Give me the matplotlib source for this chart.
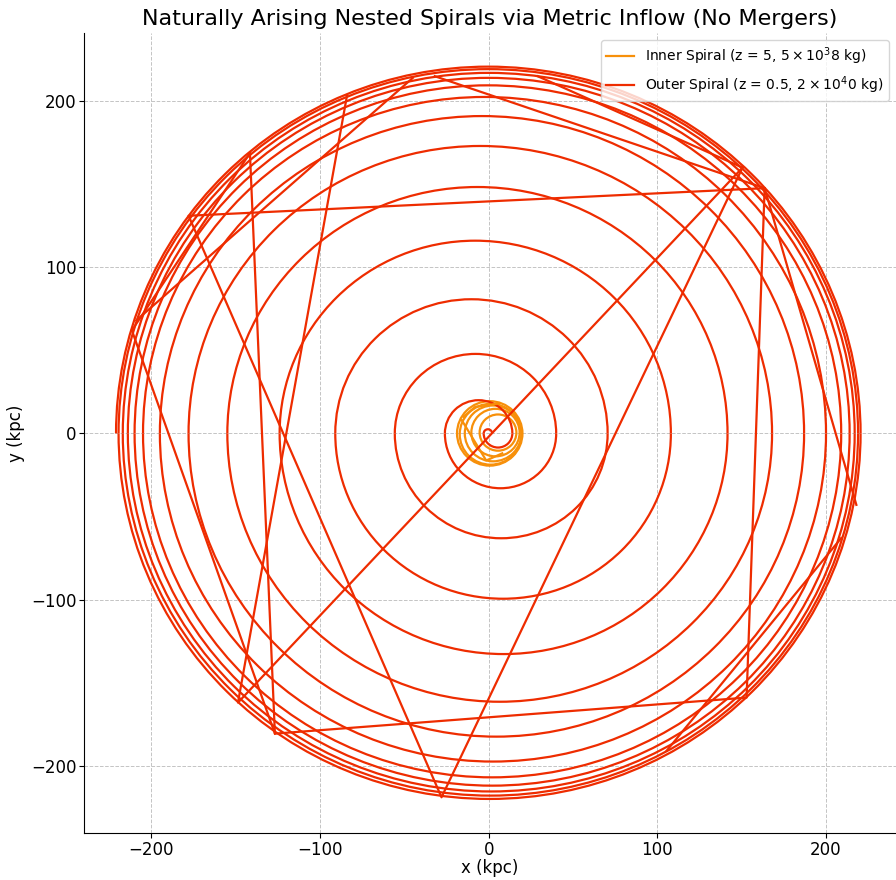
import numpy as np
import matplotlib.pyplot as plt
from matplotlib.patches import Arc, Circle

# x-axis crossings of the outer spiral (kpc), one per half turn
red_right = [2, 14, 40, 70.5, 108, 141.6, 168, 187, 200, 209, 214, 217, 219, 220.5]
red_left = [3, 26, 55.7, 91, 124, 155, 178, 195, 205, 210, 214, 217, 219.5, 221]

# straight chords of the outer spiral (coarse sampling at large radius)
red_chords = [
    [(163.6, 147.6), (-178, 131), (-28, -219), (150.5, 160)],
    [(-84, 203.6), (-148.7, -162), (150.5, 160)],
    [(-141.6, 168.7), (-126.8, -180.7), (152.9, -159), (163.6, 147.6), (218, -43)],
    [(209, -63), (105.5, -191)],
    [(-211.6, 62), (-126.8, -180.7)],
    [(-211.6, 62), (-141.6, 168.7)],
    [(-209, 68), (-45, 214)],
    [(-32, 215), (163.6, 147.6)],
    [(29, 215), (150.5, 160)],
]

# inner spiral loops: centre x, centre y, radius (kpc)
orange_cx = [0.6, 1.1, 2.6, 4.0, 5.5]
orange_cy = [0.0, -0.5, 0.0, 0.5, 0.5]
orange_r = [19.4, 18.3, 16.8, 14.3, 10.9]
orange_chords = [
    [(-16, 8), (-1.5, -16.3), (8, -12)],
    [(-15, 10), (-8, 16), (6, 18)],
]

red = '#EE2C00'
orange = '#F7900A'
lw = 1.6

fig = plt.figure(figsize=(8.96, 8.8), dpi=100)
ax = fig.add_axes([84 / 896, 47 / 880, 1 - 84 / 896, 800 / 880])

# inner spiral
for cx, cy, r in zip(orange_cx, orange_cy, orange_r):
    ax.add_patch(Circle((cx, cy), r, fill=False, color=orange, lw=lw))
for i, ch in enumerate(orange_chords):
    xs, ys = zip(*ch)
    ax.plot(xs, ys, color=orange, lw=lw,
            label=r'Inner Spiral (z = 5, $5 \times 10^38$ kg)' if i == 0 else None)

# outer spiral: alternating half turns above / below the x axis
for i in range(len(red_right)):
    r_in, l_in = red_right[i], red_left[i]
    ax.add_patch(Arc(((r_in - l_in) / 2, 0), r_in + l_in, r_in + l_in,
                     theta1=0, theta2=180, color=red, lw=lw))
    if i + 1 < len(red_right):
        r_next = red_right[i + 1]
        ax.add_patch(Arc(((r_next - l_in) / 2, 0), r_next + l_in, r_next + l_in,
                         theta1=180, theta2=360, color=red, lw=lw))
for i, ch in enumerate(red_chords):
    xs, ys = zip(*ch)
    ax.plot(xs, ys, color=red, lw=lw,
            label=r'Outer Spiral (z = 0.5, $2 \times 10^40$ kg)' if i == 0 else None)

ax.set_xlim(-240, 241.5)
ax.set_ylim(-240.5, 241)
ax.set_xticks([-200, -100, 0, 100, 200])
ax.set_yticks([-200, -100, 0, 100, 200])
ax.tick_params(labelsize=12, pad=2)
ax.grid(True, linestyle='--', color='#c4c4c4', lw=0.7)
ax.set_axisbelow(True)
for s in ['top', 'right']:
    ax.spines[s].set_visible(False)

ax.set_xlabel('x (kpc)', fontsize=12, labelpad=0)
ax.set_ylabel('y (kpc)', fontsize=12)
ax.set_title('Naturally Arising Nested Spirals via Metric Inflow (No Mergers)', fontsize=16)
ax.legend(loc='upper right', fontsize=10)

fig.savefig('out.png', dpi=100)
